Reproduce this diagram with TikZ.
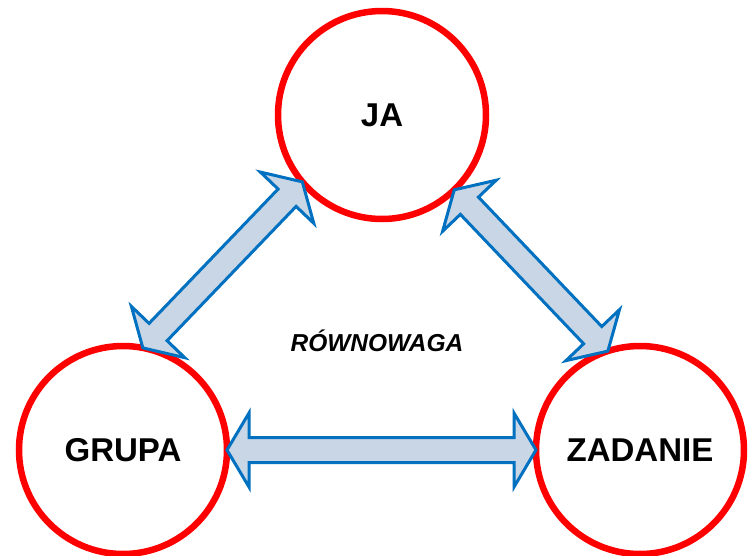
\documentclass[tikz,border=0pt]{standalone}
\usepackage{fontspec}
\setmainfont{Liberation Sans}
\usetikzlibrary{calc}
\definecolor{ringred}{RGB}{255,0,0}
\definecolor{arrblue}{RGB}{0,112,192}
\definecolor{arrfill}{RGB}{200,214,230}
\tikzset{
  ring/.style={circle, draw=ringred, line width=6.5pt, fill=white, minimum size=208pt, inner sep=0pt, outer sep=0pt, font=\fontsize{33}{39}\selectfont\bfseries},
  dblarrow/.style={draw=arrblue, line width=3pt, fill=arrfill, line join=miter}
}
\newcommand\twoheadarrow[2]{%
  \coordinate (hA) at ($(#1)!22pt!(#2)$);
  \coordinate (hB) at ($(#2)!22pt!(#1)$);
  \draw[dblarrow] (#1) -- ($(hA)!37pt!90:(#2)$) -- ($(hA)!12.5pt!90:(#2)$)
    -- ($(hB)!12.5pt!-90:(#1)$) -- ($(hB)!37pt!-90:(#1)$) -- (#2)
    -- ($(hB)!37pt!90:(#1)$) -- ($(hB)!12.5pt!90:(#1)$)
    -- ($(hA)!12.5pt!-90:(#2)$) -- ($(hA)!37pt!-90:(#2)$) -- cycle;}
\begin{document}
\begin{tikzpicture}[x=1pt,y=-1pt]
\useasboundingbox (0,0) rectangle (748,555);
\node[ring] (ja) at (382,115) {JA};
\node[ring] (grupa) at (123,450) {GRUPA};
\node[ring] (zadanie) at (640,450) {ZADANIE};
\node[font=\fontsize{24.5}{29}\selectfont\bfseries\itshape] (rown) at (377,341) {RÓWNOWAGA};
\twoheadarrow{grupa.79}{ja.220}
\twoheadarrow{ja.314}{zadanie.108.6}
\twoheadarrow{grupa.0}{zadanie.180}
\end{tikzpicture}
\end{document}
